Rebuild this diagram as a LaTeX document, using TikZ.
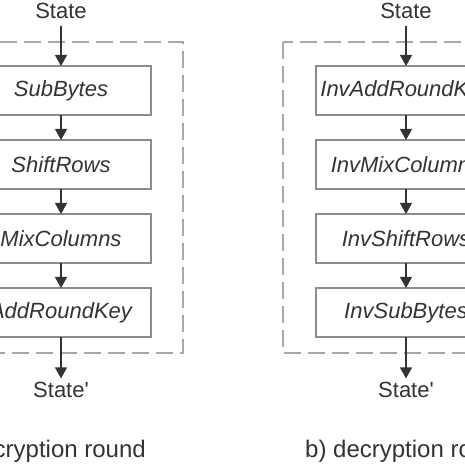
\documentclass[tikz,border=0pt]{standalone}
\usepackage{fontspec}
\setmainfont{Liberation Sans}
\usetikzlibrary{positioning,calc,arrows.meta}

\definecolor{boxgray}{HTML}{8C8C8C}
\definecolor{dashgray}{HTML}{A8A8A8}
\definecolor{inkgray}{HTML}{333333}

\begin{document}
\begin{tikzpicture}[x=1pt, y=1pt, node distance=25pt,
    roundbox/.style={draw=boxgray, line width=1.2pt, minimum width=180pt, minimum height=49pt,
      inner sep=0pt, outer sep=0pt, text=inkgray, font=\fontsize{22}{26}\selectfont\itshape},
    statelabel/.style={text=inkgray, inner sep=4pt, font=\fontsize{22}{26}\selectfont},
    caption/.style={text=inkgray, inner sep=0pt, font=\fontsize{24}{28}\selectfont},
    flow/.style={draw=inkgray, line width=1.2pt, -{Triangle[length=11pt,width=12pt]}},
    dashbox/.style={draw=dashgray, line width=1.5pt, dash pattern=on 17pt off 7pt}]
  \clip (0,0) rectangle (465,465);

  % a) encryption round
  \node[roundbox] (enc1) at (61,374.5) {SubBytes};
  \node[roundbox, below=of enc1] (enc2) {ShiftRows};
  \node[roundbox, below=of enc2] (enc3) {MixColumns};
  \node[roundbox, below=of enc3] (enc4) {AddRoundKey};
  \node[statelabel, anchor=base] (encin) at (61,446) {State};
  \node[statelabel, anchor=base] (encout) at (61,67) {State\textquotesingle};
  \draw[dashbox] ($(enc1.north west)+(-32,24)$) rectangle ($(enc4.south east)+(32,-16)$);

  \draw[flow, shorten <=3pt] (encin) -- (enc1);
  \draw[flow] (enc1) -- (enc2);
  \draw[flow] (enc2) -- (enc3);
  \draw[flow] (enc3) -- (enc4);
  \draw[flow] (enc4) -- (encout);

  % b) decryption round
  \node[roundbox] (dec1) at (406,374.5) {InvAddRoundKey};
  \node[roundbox, below=of dec1] (dec2) {InvMixColumns};
  \node[roundbox, below=of dec2] (dec3) {InvShiftRows};
  \node[roundbox, below=of dec3] (dec4) {InvSubBytes};
  \node[statelabel, anchor=base] (decin) at (406,446) {State};
  \node[statelabel, anchor=base] (decout) at (406,67) {State\textquotesingle};
  \draw[dashbox] ($(dec1.north west)+(-33,24)$) rectangle ($(dec4.south east)+(33,-16)$);

  \draw[flow, shorten <=3pt] (decin) -- (dec1);
  \draw[flow] (dec1) -- (dec2);
  \draw[flow] (dec2) -- (dec3);
  \draw[flow] (dec3) -- (dec4);
  \draw[flow] (dec4) -- (decout);

  % captions
  \node[caption, anchor=base east] (capenc) at (146,8) {a) encryption round};
  \node[caption, anchor=base west] (capdec) at (305,8) {b) decryption round};
\end{tikzpicture}
\end{document}
